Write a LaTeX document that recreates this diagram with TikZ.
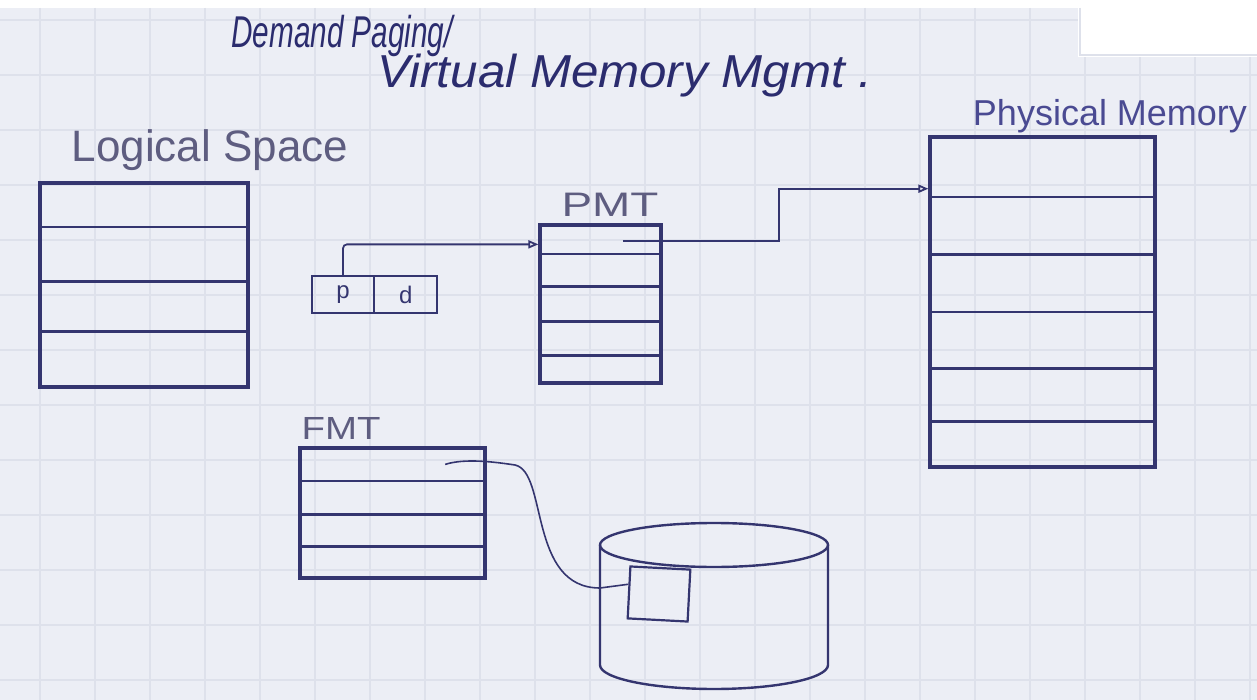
\documentclass[tikz,border=0pt]{standalone}
\usepackage{fontspec}
\setmainfont{Liberation Sans}
\usetikzlibrary{arrows.meta,calc}
\definecolor{paper}{HTML}{ECEEF5}
\definecolor{gridc}{HTML}{DEE1EB}
\definecolor{ink}{HTML}{34356F}
\definecolor{titleink}{HTML}{2B2C6E}
\definecolor{grayink}{HTML}{5E5D80}
\definecolor{physink}{HTML}{4A4A92}
\tikzset{
  x=0.5pt, y=-0.5pt,
  membox/.style={draw=ink, line width=1.6pt, rectangle, inner sep=0pt},
  rowline/.style={draw=ink, line width=1.4pt},
  link/.style={draw=ink, line width=0.9pt},
  tip/.style={-{Triangle[open,length=5pt,width=4pt]}},
  lbl/.style={inner sep=0pt},
}
\begin{document}
\begin{tikzpicture}
\useasboundingbox (0,0) rectangle (1257,700);
% paper
\fill[paper] (0,8) rectangle (1257,700);
\fill[white] (0,0) rectangle (1257,8);
\foreach \gx in {40,95,...,1257} \draw[gridc, line width=0.6pt] (\gx,8) -- (\gx,700);
\foreach \gy in {20,75,...,700} \draw[gridc, line width=0.6pt] (0,\gy) -- (1257,\gy);
\fill[white] (1078,0) rectangle (1257,57);
\draw[gridc, line width=0.8pt] (1080,8) -- (1080,55) -- (1257,55);

% titles
\node[lbl, text=titleink, xscale=0.9, yscale=1.35, font=\fontsize{16.5}{20}\itshape\selectfont] (t1) at (342,36) {Demand Paging/};
\node[lbl, text=titleink, xscale=1.12, yscale=1.05, font=\fontsize{22}{26}\itshape\selectfont] (t2) at (625,76) {Virtual Memory Mgmt .};

% Logical space
\node[lbl, text=grayink, font=\fontsize{22}{26}\selectfont] (llbl) at (210,150) {Logical Space};
\node[membox, minimum width=104pt, minimum height=102pt] (L) at (144,285) {};
\foreach \f in {0.22,0.485,0.725}
  \draw[rowline] ($(L.north west)!\f!(L.south west)$) -- ($(L.north east)!\f!(L.south east)$);

% p | d
\node[membox, line width=1.2pt, minimum width=31pt, minimum height=18.5pt, font=\fontsize{12}{14}\selectfont, text=ink] (p) at (343,294.5) {p};
\node[membox, line width=1.2pt, minimum width=31.5pt, minimum height=18.5pt, font=\fontsize{12}{14}\selectfont, text=ink] (d) at (405.75,294.5) {d};

% PMT
\node[lbl, text=grayink, xscale=1.35, font=\fontsize{17}{20}\selectfont] (pmtlbl) at (610,205) {PMT};
\node[membox, minimum width=60.5pt, minimum height=79pt] (PMT) at (600.5,304) {};
\foreach \f in {0.19,0.39,0.61,0.82}
  \draw[rowline] ($(PMT.north west)!\f!(PMT.south west)$) -- ($(PMT.north east)!\f!(PMT.south east)$);

% Physical memory
\node[lbl, text=physink, font=\fontsize{18}{22}\selectfont] (phylbl) at (1110,116) {Physical Memory};
\node[membox, minimum width=112.5pt, minimum height=165pt] (Phys) at (1042.5,302) {};
\foreach \f in {0.185,0.358,0.53,0.70,0.858}
  \draw[rowline] ($(Phys.north west)!\f!(Phys.south west)$) -- ($(Phys.north east)!\f!(Phys.south east)$);

% FMT
\node[lbl, text=grayink, xscale=1.2, font=\fontsize{16}{20}\selectfont] (fmtlbl) at (341,428) {FMT};
\node[membox, minimum width=92.5pt, minimum height=65pt] (FMT) at (392.5,513) {};
\foreach \f in {0.26,0.51,0.75}
  \draw[rowline] ($(FMT.north west)!\f!(FMT.south west)$) -- ($(FMT.north east)!\f!(FMT.south east)$);

% disk
\coordinate (disk) at (714,600);
\draw[ink, line width=1.2pt] (714,545) ellipse [x radius=57pt, y radius=11pt];
\draw[ink, line width=1.2pt] (600,545) -- (600,665)
   arc[start angle=180, end angle=360, x radius=57pt, y radius=12pt] -- (828,545);
\node[draw=ink, line width=1.1pt, minimum width=30pt, minimum height=26pt, inner sep=0pt, rotate=-3] (sq) at (659,594) {};

% connectors
\coordinate (pin) at ($(PMT.north west)!0.13!(PMT.south west)$);
\draw[link, tip, rounded corners=2pt] (p.north) |- (pin);

\coordinate (ps) at ($(PMT.north west)!0.68!(PMT.north east)+(0,18)$);
\coordinate (pmin) at ($(Phys.north west)!0.16!(Phys.south west)$);
\draw[link, tip] (ps) -- ++(156,0) |- (pmin);

\coordinate (fs) at ($(FMT.north west)!0.78!(FMT.north east)+(0,18)$);
\coordinate (sqin) at ($(sq.north west)!0.35!(sq.south west)$);
\draw[link, line width=0.8pt] (fs) .. controls (465,458) and (495,462) .. (515,465)
   .. controls (548,472) and (528,588) .. (600,588) -- (sqin);
\end{tikzpicture}
\end{document}
